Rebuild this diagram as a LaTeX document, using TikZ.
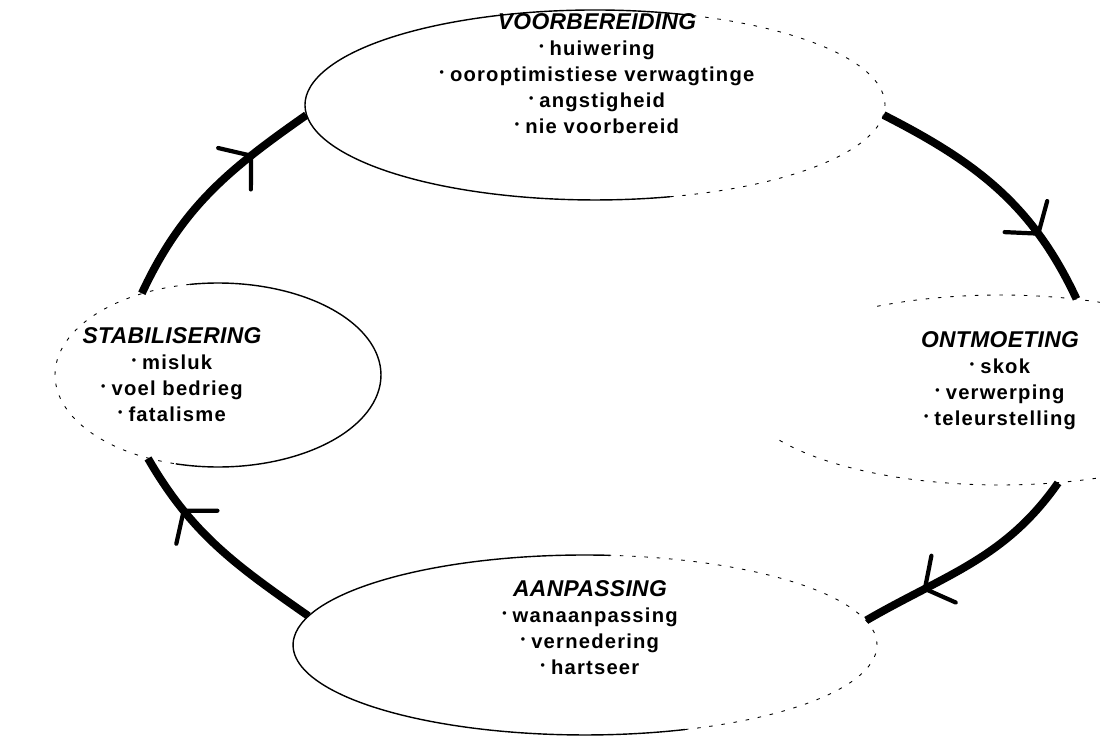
\documentclass[tikz,border=0pt]{standalone}
\usepackage{fontspec}
\setmainfont{Liberation Sans}
\usetikzlibrary{shapes.geometric,arrows.meta,decorations.markings}
\newcommand{\pnt}{\raisebox{0.5ex}{\scriptsize\textbullet}\hspace{0.3em}}
\newcommand{\heading}[1]{{\fontsize{13}{15}\selectfont\itshape\addfontfeature{LetterSpace=1.5}#1}}

\begin{document}
\begin{tikzpicture}[x=0.02cm, y=0.02cm,
        bubble/.style={ellipse, fill=white, inner sep=0pt},
        rim/.style={line width=0.8pt},
        faint/.style={dash pattern={on 2pt off 5pt}, line width=0.5pt},
        phase/.style={align=center, inner sep=0pt, font=\fontsize{11.5}{14.8}\selectfont\bfseries\addfontfeature{LetterSpace=6}},
        ring/.style={line width=4.5pt, postaction={decorate},
            decoration={markings, mark=at position 0.73 with {\arrow{Straight Barb[length=12pt, width=30pt, line width=2.4pt, round]}}}}]
    \useasboundingbox (0,0) rectangle (1100,740);
    \node[bubble, minimum width=11.6cm, minimum height=3.8cm] (voor) at (595,635) {};
    \node[bubble, minimum width=10.4cm, minimum height=3.8cm] (ontm) at (1000,350) {};
    \node[bubble, minimum width=11.68cm, minimum height=3.6cm] (aanp) at (585,95) {};
    \node[bubble, minimum width=6.52cm, minimum height=3.68cm] (stab) at (218,365) {};
    \draw[rim] (voor.center) ++(70:5.8cm and 1.9cm) arc[start angle=70, end angle=285, x radius=5.8cm, y radius=1.9cm];
    \draw[faint] (voor.center) ++(-75:5.8cm and 1.9cm) arc[start angle=-75, end angle=70, x radius=5.8cm, y radius=1.9cm];
    \draw[faint] (ontm.center) ++(55:5.2cm and 1.9cm) arc[start angle=55, end angle=120, x radius=5.2cm, y radius=1.9cm];
    \draw[faint] (ontm.center) ++(212:5.2cm and 1.9cm) arc[start angle=212, end angle=300, x radius=5.2cm, y radius=1.9cm];
    \draw[rim] (aanp.center) ++(85:5.84cm and 1.8cm) arc[start angle=85, end angle=290, x radius=5.84cm, y radius=1.8cm];
    \draw[faint] (aanp.center) ++(-70:5.84cm and 1.8cm) arc[start angle=-70, end angle=85, x radius=5.84cm, y radius=1.8cm];
    \draw[rim] (stab.center) ++(-105:3.26cm and 1.84cm) arc[start angle=-105, end angle=100, x radius=3.26cm, y radius=1.84cm];
    \draw[faint] (stab.center) ++(100:3.26cm and 1.84cm) arc[start angle=100, end angle=255, x radius=3.26cm, y radius=1.84cm];
    \node[phase] (voortxt) at (597,666) {\heading{VOORBEREIDING}\\ \pnt huiwering\\ \pnt ooroptimistiese verwagtinge\\ \pnt angstigheid\\ \pnt nie voorbereid};
    \node[phase] (ontmtxt) at (1000,359) {\heading{ONTMOETING}\\ \pnt skok\\ \pnt verwerping\\ \pnt teleurstelling};
    \node[phase] (aanptxt) at (590,112) {\heading{AANPASSING}\\ \pnt wanaanpassing\\ \pnt vernedering\\ \pnt hartseer};
    \node[phase] (stabtxt) at (172,365) {\heading{STABILISERING}\\ \pnt misluk\\ \pnt voel bedrieg\\ \pnt fatalisme};
    \draw[ring] (voor.-2) to[out=-27, in=115] (ontm.50);
    \draw[ring] (ontm.-58) to[out=-125, in=30] (aanp.5);
    \draw[ring] (aanp.174) to[out=145, in=-60] (stab.-130);
    \draw[ring] (stab.133) to[out=65, in=-145] (voor.182);
\end{tikzpicture}
\end{document}
